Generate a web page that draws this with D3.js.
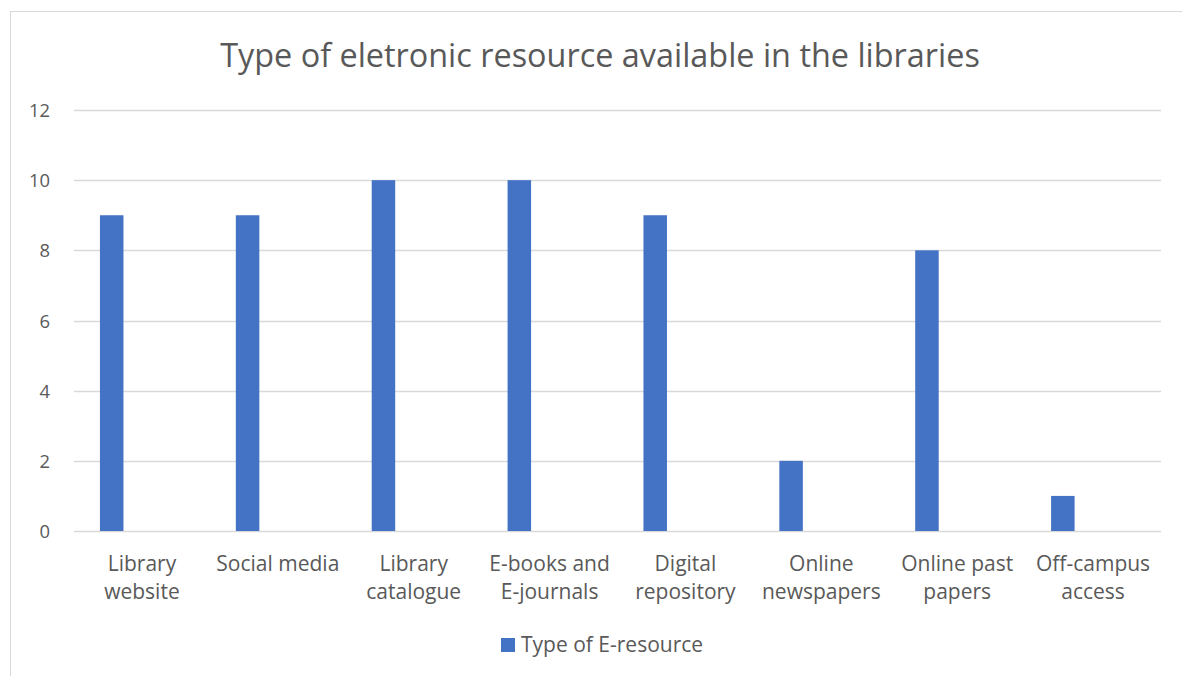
<!DOCTYPE html>
<html>
<head>
<meta charset="utf-8">
<script src="https://cdn.jsdelivr.net/npm/d3@7"></script>
<style>
  body { margin: 0; background: #fff; }
  svg text { font-family: 'Open Sans', sans-serif; fill: #595959; }
</style>
</head>
<body>
<div id="chart"></div>
<script>
// data
const categories = [
  ['Library', 'website'],
  ['Social media'],
  ['Library', 'catalogue'],
  ['E-books and', 'E-journals'],
  ['Digital', 'repository'],
  ['Online', 'newspapers'],
  ['Online past', 'papers'],
  ['Off-campus', 'access']
];
const values = [9, 9, 10, 10, 9, 2, 8, 1];
const yTicks = [0, 2, 4, 6, 8, 10, 12];
const seriesName = 'Type of E-resource';
const chartTitle = 'Type of eletronic resource available in the libraries';

const width = 1182, height = 676;
const plot = { left: 74, right: 1161, top: 110, bottom: 531 };

const svg = d3.select('#chart').append('svg')
  .attr('viewBox', [0, 0, width, height])
  .attr('width', width)
  .attr('height', height);

// frame
svg.append('rect')
  .attr('x', 10.5).attr('y', 11.5)
  .attr('width', width).attr('height', height)
  .attr('fill', '#fff').attr('stroke', '#d9d9d9');

const keys = categories.map((d, i) => i);
const x = d3.scaleBand().domain(keys).range([plot.left, plot.right]).padding(0);
const y = d3.scaleLinear().domain([0, 12]).range([plot.bottom, plot.top]);

// gridlines
svg.append('g')
  .selectAll('line')
  .data(yTicks)
  .join('line')
  .attr('x1', plot.left).attr('x2', plot.right)
  .attr('y1', d => Math.round(y(d)) + 0.5)
  .attr('y2', d => Math.round(y(d)) + 0.5)
  .attr('stroke', '#d9d9d9')
  .attr('stroke-width', 1.3);

// y tick labels
svg.append('g')
  .selectAll('text')
  .data(yTicks)
  .join('text')
  .attr('x', 50)
  .attr('y', d => y(d) + 7)
  .attr('text-anchor', 'end')
  .style('font-size', '18.4px')
  .text(d => d);

// bars (offset inside the band like the original clustered column)
const barOffset = x.bandwidth() * 0.191;
const barWidth = x.bandwidth() * 0.173;
svg.append('g')
  .selectAll('rect')
  .data(values)
  .join('rect')
  .attr('x', (d, i) => x(i) + barOffset)
  .attr('y', d => y(d))
  .attr('width', barWidth)
  .attr('height', d => y(0) - y(d))
  .attr('fill', '#4472c4');

// category labels
const catLabels = svg.append('g')
  .selectAll('text')
  .data(categories)
  .join('text')
  .attr('text-anchor', 'middle')
  .style('font-size', '21px')
  .attr('transform', (d, i) => `translate(${x(i) + x.bandwidth() / 2},571)`);

catLabels.selectAll('tspan')
  .data(d => d)
  .join('tspan')
  .attr('x', 0)
  .attr('y', (d, i) => i * 28.3)
  .text(d => d);

// title
svg.append('text')
  .attr('x', 600)
  .attr('y', 67)
  .attr('text-anchor', 'middle')
  .style('font-size', '32.4px')
  .text(chartTitle);

// legend
const legend = svg.append('g').attr('transform', 'translate(501,638)');
legend.append('rect').attr('width', 14).attr('height', 14).attr('fill', '#4472c4');
legend.append('text')
  .attr('x', 20).attr('y', 13.7)
  .style('font-size', '21px')
  .text(seriesName);
</script>
</body>
</html>
